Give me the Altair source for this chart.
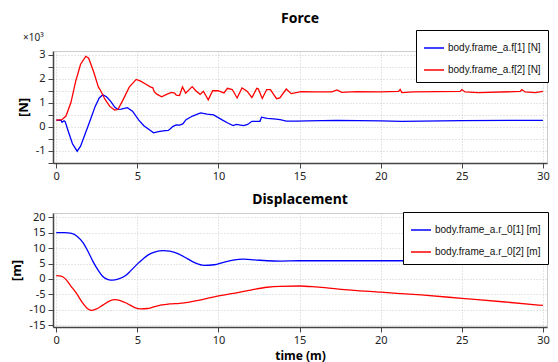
import altair as alt
import pandas as pd

FONT = "Noto Sans"
LFONT = "Liberation Sans"

# ---- Force (values in x10^3 N) ----
f1_t = [0, 0.3, 0.36, 0.48, 0.55, 0.75, 1.0, 1.29, 1.5, 1.75, 2.06, 2.4, 2.65, 2.87, 3.1, 3.37, 3.6, 3.78, 4.0,
        4.38, 4.7, 5.09, 5.4, 5.7, 6.0, 6.3, 6.6, 6.9, 7.0, 7.2, 7.4, 7.6, 7.8, 8.0, 8.4, 8.9, 9.3, 9.7, 10.2,
        10.6, 10.9, 11.1, 11.55, 11.8, 12.06, 12.56, 12.65, 13.0, 13.4, 13.8, 14.18, 14.8, 15.5, 17.3, 20, 21.3,
        25, 30]
f1_v = [0.28, 0.27, 0.19, 0.25, 0.22, -0.2, -0.7, -1.01, -0.8, -0.35, 0.21, 0.85, 1.2, 1.33, 1.25, 1.05, 0.82,
        0.73, 0.74, 0.80, 0.65, 0.28, 0.05, -0.1, -0.25, -0.2, -0.17, -0.15, -0.1, 0.02, 0.08, 0.07, 0.12, 0.3,
        0.45, 0.58, 0.53, 0.5, 0.3, 0.15, 0.05, 0.1, 0.05, 0.1, 0.23, 0.23, 0.4, 0.35, 0.33, 0.3, 0.24, 0.24, 0.25,
        0.27, 0.25, 0.23, 0.26, 0.27]

f2_t = [0, 0.35, 0.6, 0.9, 1.2, 1.5, 1.82, 2.0, 2.3, 2.6, 2.7, 3.0, 3.3, 3.6, 3.8, 4.1, 4.5, 4.93, 5.2, 5.5,
        5.8, 5.95, 6.05, 6.2, 6.5, 6.8, 7.1, 7.3, 7.4, 7.6, 7.78, 7.98, 8.38, 8.6, 8.87, 9.07, 9.37, 9.64, 9.97,
        10.34, 10.55, 10.85, 11.15, 11.45, 11.76, 12.06, 12.36, 12.45, 12.7, 12.97, 13.2, 13.58, 13.78, 14.18,
        14.48, 14.8, 15.1, 16, 17.0, 17.3, 17.6, 18.5, 20, 21.1, 21.2, 21.3, 22, 24.9, 25.0, 25.2, 26, 28.6,
        28.7, 28.9, 29.5, 30]
f2_v = [0.28, 0.3, 0.45, 1.0, 1.9, 2.6, 2.93, 2.85, 2.3, 1.65, 1.55, 1.15, 0.85, 0.70, 0.72, 1.1, 1.65, 1.97,
        1.9, 1.78, 1.66, 1.62, 1.45, 1.36, 1.25, 1.35, 1.43, 1.4, 1.32, 1.3, 1.66, 1.4, 1.67, 1.5, 1.35, 1.48,
        1.12, 1.5, 1.5, 1.41, 1.6, 1.55, 1.2, 1.62, 1.48, 1.22, 1.6, 1.58, 1.18, 1.55, 1.55, 1.17, 1.2, 1.57,
        1.38, 1.42, 1.46, 1.45, 1.45, 1.53, 1.43, 1.46, 1.45, 1.47, 1.55, 1.42, 1.45, 1.47, 1.55, 1.45, 1.42,
        1.47, 1.55, 1.45, 1.42, 1.47]

# ---- Displacement (m) ----
r1_t = [0, 0.5, 0.95, 1.3, 1.66, 2.0, 2.26, 2.6, 2.87, 3.2, 3.47, 3.8, 4.28, 4.6, 4.99, 5.35, 5.7, 6.1, 6.6,
        7.0, 7.5, 8.1, 8.6, 9.1, 9.74, 10.3, 10.9, 11.55, 12.2, 13.0, 13.8, 15, 20, 25, 30]
r1_v = [15, 15, 14.8, 13.8, 11.7, 8.5, 5.7, 2.7, 0.8, -0.2, -0.4, -0.1, 1.1, 2.7, 4.8, 6.5, 7.9, 8.8, 9.2,
        9.0, 8.2, 6.5, 5.1, 4.4, 4.6, 5.4, 6.1, 6.4, 6.2, 5.9, 5.8, 5.9, 5.9, 5.9, 5.9]

r2_t = [0, 0.3, 0.55, 0.9, 1.25, 1.6, 1.9, 2.16, 2.45, 2.87, 3.3, 3.6, 3.95, 4.38, 4.8, 5.2, 5.6, 6.0, 6.5,
        7.0, 7.6, 8.1, 8.5, 8.93, 9.74, 10.8, 12.0, 13.0, 13.8, 15, 16, 17.4, 20, 22.5, 25, 27.5, 30]
r2_v = [1.1, 0.9, 0.1, -2.3, -4.7, -7.6, -9.5, -10.2, -9.8, -8.5, -7.1, -6.7, -7.0, -8.0, -9.2, -9.7, -9.6,
        -9.1, -8.4, -8.1, -7.9, -7.6, -7.2, -6.8, -5.8, -4.8, -3.6, -2.7, -2.4, -2.3, -2.6, -3.3, -4.3, -5.2,
        -6.3, -7.4, -8.6]

force_labels = ["body.frame_a.f[1] [N]", "body.frame_a.f[2] [N]"]
disp_labels = ["body.frame_a.r_0[1] [m]", "body.frame_a.r_0[2] [m]"]
colors = ["#0000ff", "#ff0000"]
x_ticks = [0, 5, 10, 15, 20, 25, 30]
force_ticks = [-1.5, -1, -0.5, 0, 0.5, 1, 1.5, 2, 2.5, 3]
disp_ticks = [-15, -10, -5, 0, 5, 10, 15, 20]
exp_label = ["×10³"]

df_force = pd.concat([
    pd.DataFrame({"t": f1_t, "v": f1_v, "s": force_labels[0]}),
    pd.DataFrame({"t": f2_t, "v": f2_v, "s": force_labels[1]}),
])
df_disp = pd.concat([
    pd.DataFrame({"t": r1_t, "v": r1_v, "s": disp_labels[0]}),
    pd.DataFrame({"t": r2_t, "v": r2_v, "s": disp_labels[1]}),
])

W = 494
H1 = 112
H2 = 114
xdom = [-0.2, 30.25]

MINUS_FIX = "replace(datum.label, '\u2212', '-')"


def legend(lx, ly):
    return alt.Legend(title=None, orient="none", legendX=lx, legendY=ly, strokeColor="black",
                      fillColor="white", padding=7, labelFont=LFONT, labelFontSize=10, labelColor="#111",
                      symbolType="stroke", symbolSize=400, symbolStrokeWidth=1.5, rowPadding=6,
                      labelOffset=3, labelLimit=200)


force_line = alt.Chart(df_force).mark_line(strokeWidth=1.3, clip=True).encode(
    x=alt.X("t:Q", scale=alt.Scale(domain=xdom, nice=False, zero=False),
            axis=alt.Axis(values=x_ticks, title=None, labelPadding=2)),
    y=alt.Y("v:Q", scale=alt.Scale(domain=[-1.5, 3.15], nice=False, zero=False),
            axis=alt.Axis(values=force_ticks, title="[N]",
                          labelExpr="datum.value % 1 == 0 ? (datum.value < 0 ? '-' : '') + format(abs(datum.value), 'd') : ''")),
    color=alt.Color("s:N", scale=alt.Scale(domain=force_labels, range=colors),
                    legend=legend(W - 131, -21)),
)
exp_text = alt.Chart(pd.DataFrame({"label": exp_label})).mark_text(
    align="left", baseline="middle", fontSize=10, font=FONT, color="#222"
).encode(x=alt.value(-30), y=alt.value(-13), text="label:N")

top = alt.layer(force_line, exp_text).properties(
    width=W, height=H1,
    title=alt.Title("Force", fontSize=14, fontWeight="bold", font=FONT, anchor="middle", frame="group",
                    offset=4, color="#000"),
)

disp_line = alt.Chart(df_disp).mark_line(strokeWidth=1.3, clip=True, interpolate="monotone").encode(
    x=alt.X("t:Q", scale=alt.Scale(domain=xdom, nice=False, zero=False),
            axis=alt.Axis(values=x_ticks, title="time (m)", titlePadding=5, titleFontSize=12,
                          labelPadding=2)),
    y=alt.Y("v:Q", scale=alt.Scale(domain=[-15.6, 21.4], nice=False, zero=False),
            axis=alt.Axis(values=disp_ticks, title="[m]", labelExpr=MINUS_FIX)),
    color=alt.Color("s:N", scale=alt.Scale(domain=disp_labels, range=colors),
                    legend=legend(W - 144, -1)),
)
bottom = disp_line.properties(
    width=W, height=H2,
    title=alt.Title("Displacement", fontSize=14, fontWeight="bold", font=FONT, anchor="middle",
                    frame="group", offset=4, color="#000"),
)

chart = alt.vconcat(top, bottom, spacing=10).resolve_scale(color="independent").properties(
    padding={"left": 2, "top": 3, "right": 0, "bottom": 0}
).configure_view(stroke="#cccccc").configure_axis(
    domainColor="#444", domainWidth=1.5, tickColor="#444", tickSize=5, labelFont=FONT, labelFontSize=11,
    labelColor="#222", labelPadding=3, gridColor="#cccccc", gridDash=[1, 2], titleFont=FONT,
    titleFontSize=13, titleFontWeight="bold", titleColor="#000", titlePadding=5,
)

chart.save("out.html", embed_options={"renderer": "svg", "actions": False})
